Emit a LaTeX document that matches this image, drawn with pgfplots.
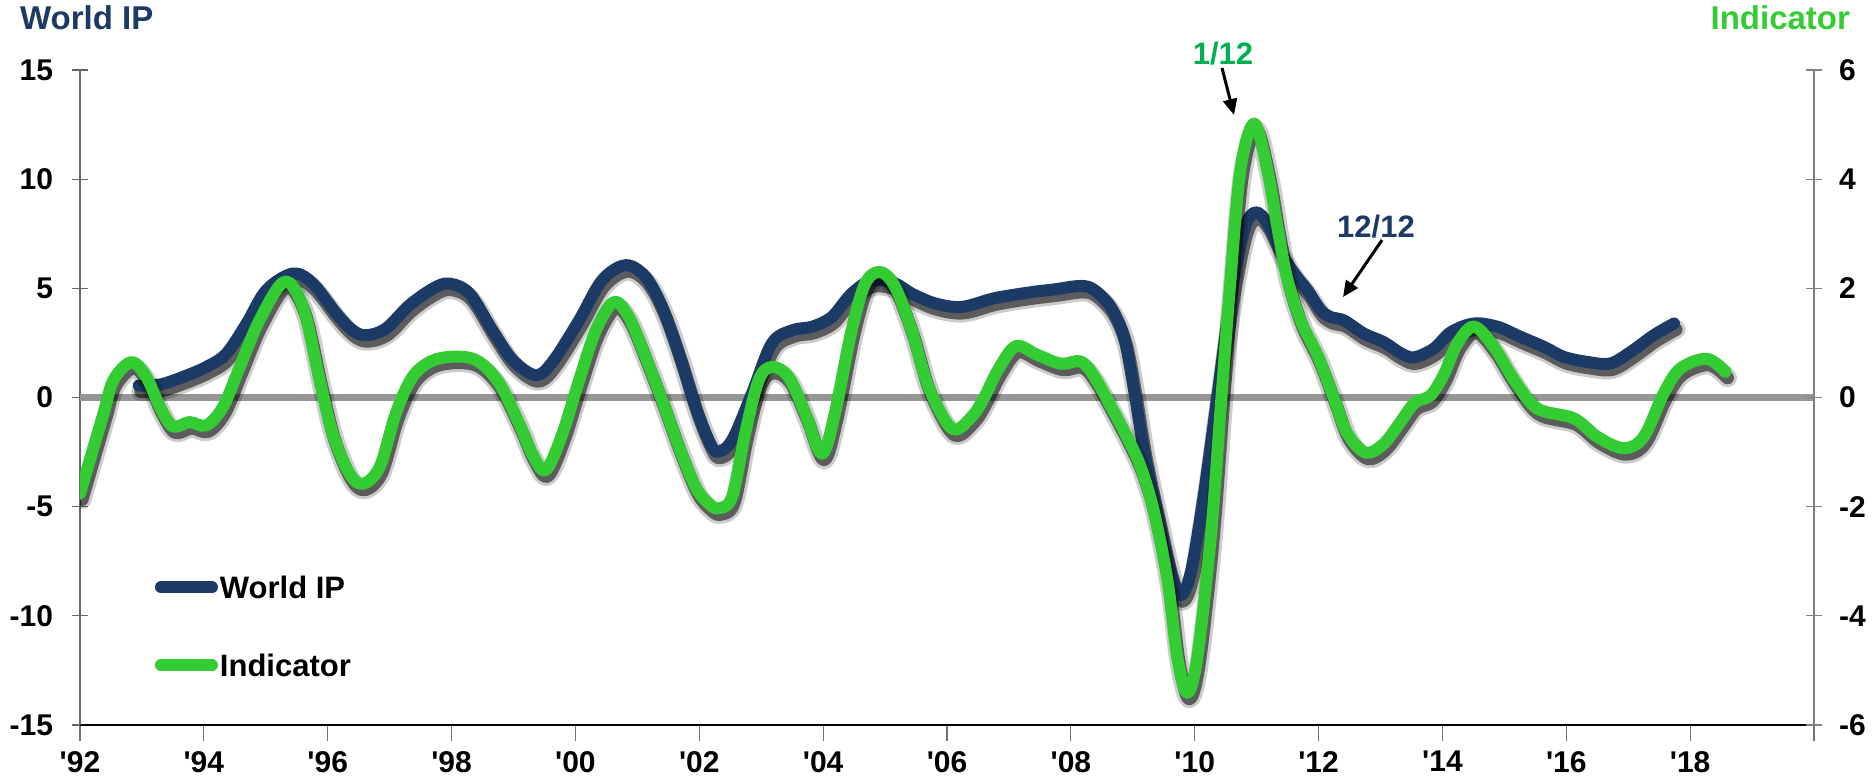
\documentclass[border=0pt]{standalone}
\usepackage{fontspec}
\setmainfont{Liberation Sans}
\usepackage{pgfplots}
\usepackage{pgfplotstable}
\pgfplotsset{compat=1.18}
\usetikzlibrary{arrows.meta}

\definecolor{ipblue}{HTML}{1B3A65}
\definecolor{indgreen}{HTML}{33CC33}
\definecolor{darkgreen}{HTML}{00B050}
\definecolor{zerogray}{HTML}{969696}

% World IP, left scale
\pgfplotstableread{
year ip
1992.95 0.55
1993.30 0.60
1993.67 0.95
1994.04 1.40
1994.36 2.00
1994.69 3.39
1995.01 4.92
1995.44 5.68
1995.76 5.22
1996.14 3.85
1996.40 3.08
1996.62 2.85
1996.94 3.16
1997.32 4.23
1997.70 4.99
1997.96 5.22
1998.29 4.76
1998.66 3.08
1998.99 1.71
1999.36 1.02
1999.63 1.63
2000.06 3.54
2000.43 5.37
2000.81 6.06
2001.13 5.53
2001.40 4.15
2001.67 2.02
2001.94 -0.43
2002.15 -1.95
2002.29 -2.49
2002.53 -1.95
2002.85 0.18
2003.17 2.47
2003.50 3.08
2003.82 3.24
2004.14 3.69
2004.46 4.76
2004.79 5.37
2005.16 5.22
2005.43 4.76
2005.81 4.31
2006.24 4.15
2006.77 4.55
2007.35 4.82
2007.73 4.95
2008.16 5.11
2008.38 4.92
2008.65 4.12
2008.86 2.74
2009.02 0.36
2009.18 -2.42
2009.40 -5.39
2009.61 -7.97
2009.77 -9.06
2009.94 -7.97
2010.15 -4.40
2010.37 0.16
2010.58 4.52
2010.80 7.69
2010.98 8.48
2011.17 7.99
2011.39 6.70
2011.60 5.71
2011.82 4.92
2012.03 4.02
2012.19 3.69
2012.41 3.53
2012.73 2.93
2013.05 2.54
2013.32 2.04
2013.54 1.84
2013.86 2.24
2014.14 3.00
2014.51 3.39
2014.89 3.24
2015.26 2.78
2015.64 2.32
2015.96 1.86
2016.34 1.63
2016.71 1.56
2017.04 2.09
2017.41 2.85
2017.74 3.39
}\ipdata

% Indicator, right scale
\pgfplotstableread{
year ind
1992.00 -1.76
1992.38 -0.29
1992.54 0.32
1992.83 0.65
1993.07 0.38
1993.29 -0.17
1993.50 -0.53
1993.77 -0.45
1994.04 -0.51
1994.31 -0.17
1994.58 0.56
1994.90 1.42
1995.30 2.12
1995.60 1.66
1995.87 0.32
1996.08 -0.66
1996.35 -1.39
1996.57 -1.58
1996.84 -1.27
1997.10 -0.29
1997.37 0.38
1997.70 0.68
1998.13 0.75
1998.45 0.65
1998.77 0.26
1999.10 -0.50
1999.30 -1.03
1999.52 -1.33
1999.79 -0.66
2000.06 0.32
2000.33 1.23
2000.62 1.75
2000.86 1.48
2001.13 0.75
2001.40 -0.05
2001.67 -0.90
2001.94 -1.64
2002.15 -1.94
2002.31 -2.03
2002.53 -1.82
2002.74 -0.66
2002.96 0.32
2003.17 0.56
2003.44 0.38
2003.71 -0.29
2003.98 -1.03
2004.19 -0.29
2004.46 1.23
2004.68 2.09
2004.92 2.30
2005.16 2.03
2005.43 1.23
2005.70 0.20
2006.08 -0.57
2006.40 -0.35
2006.60 0.00
2006.82 0.50
2007.11 0.94
2007.46 0.78
2007.84 0.62
2008.16 0.66
2008.38 0.38
2008.65 -0.17
2008.91 -0.73
2009.13 -1.28
2009.34 -2.08
2009.56 -3.35
2009.72 -4.77
2009.88 -5.41
2010.04 -4.77
2010.26 -2.55
2010.42 -0.17
2010.58 2.20
2010.74 4.19
2010.96 5.02
2011.17 4.19
2011.33 3.15
2011.49 2.20
2011.71 1.41
2011.98 0.78
2012.25 -0.02
2012.46 -0.65
2012.76 -1.01
2013.05 -0.85
2013.32 -0.45
2013.55 -0.10
2013.81 0.04
2014.03 0.44
2014.24 0.99
2014.51 1.30
2014.83 0.93
2015.16 0.32
2015.53 -0.20
2016.12 -0.38
2016.50 -0.72
2016.93 -0.93
2017.25 -0.72
2017.57 0.07
2017.84 0.53
2018.27 0.71
2018.57 0.47
}\inddata

\pgfplotsset{
  base/.style={
    at={(40pt,26.5pt)}, anchor=south west,
    scale only axis, width=867pt, height=327.5pt,
    xmin=1992, xmax=2020,
    tick label style={font=\fontsize{15}{18}\selectfont\bfseries},
    major tick length=8pt,
  },
  curve/.style={smooth, tension=0.55, no marks, line width=6pt,
    line join=round, line cap=round},
  shade1/.style={curve, black, opacity=0.2, line width=9.5pt,
    xshift=1pt, yshift=-3pt, forget plot},
  shade2/.style={curve, black, opacity=0.55, line width=6.5pt,
    xshift=1pt, yshift=-3pt, forget plot},
}

\begin{document}
\begin{tikzpicture}
\begin{axis}[base,
  ymin=-15, ymax=15,
  axis x line*=bottom, axis y line*=left,
  xtick={1992,1994,...,2020},
  xticklabels={\textquotesingle 92,\textquotesingle 94,\textquotesingle 96,\textquotesingle 98,\textquotesingle 00,\textquotesingle 02,\textquotesingle 04,\textquotesingle 06,\textquotesingle 08,\textquotesingle 10,\textquotesingle 12,\textquotesingle 14,\textquotesingle 16,\textquotesingle 18,},
  ytick={-15,-10,...,15},
  yticklabels={-15,-10,-5,0,5,10,15},
  xtick align=outside, ytick align=center,
  x axis line style={black, line width=0.8pt},
  y axis line style={black!60, line width=0.6pt},
  x tick style={black!55, line width=0.6pt},
  y tick style={black!60, line width=0.6pt},
  yticklabel style={xshift=-6pt},
  xticklabel style={yshift=-1.5pt},
]
\addplot[zerogray, line width=3.5pt, forget plot] coordinates {(1992,0) (2020,0)};
\addplot[shade1] table[x=year, y=ip] {\ipdata};
\addplot[shade2] table[x=year, y=ip] {\ipdata};
\addplot[curve, ipblue] table[x=year, y=ip] {\ipdata};
\end{axis}

\begin{axis}[base,
  ymin=-6, ymax=6,
  axis x line=none, axis y line*=right,
  ytick={-6,-4,...,6},
  yticklabels={-6,-4,-2,0,2,4,6},
  ytick align=center,
  y axis line style={black!50, line width=0.6pt},
  y tick style={black!50, line width=0.6pt},
  yticklabel style={xshift=5pt},
  legend cell align=left,
  legend style={at={(0.043,0.0733)}, anchor=south west, draw=none, fill=none,
    inner sep=0pt, row sep=27.8pt, column sep=1pt,
    font=\fontsize{15.5}{18}\selectfont\bfseries,
    nodes={inner sep=0pt, text height=11.2pt, text depth=0pt}},
  legend image code/.code={\draw[#1] (0pt,0pt) -- (25.5pt,0pt);},
]
\addlegendimage{curve, ipblue}
\addlegendentry{World IP}
\addplot[shade1] table[x=year, y=ind] {\inddata};
\addplot[shade2] table[x=year, y=ind] {\inddata};
\addplot[curve, indgreen] table[x=year, y=ind] {\inddata};
\addlegendentry{Indicator}
\end{axis}

\node[anchor=base west, text=ipblue, font=\fontsize{16.5}{20}\selectfont\bfseries] at (6.5pt,374pt) {World IP};
\node[anchor=base east, text=indgreen, font=\fontsize{16.5}{20}\selectfont\bfseries] at (928.5pt,374pt) {Indicator};
\node[anchor=base, text=darkgreen, font=\fontsize{15.5}{18}\selectfont\bfseries] at (611.5pt,356.5pt) {1/12};
\draw[-{Triangle[length=8pt,width=7pt]}, line width=1.5pt] (611pt,355pt) -- (617pt,331.5pt);
\node[anchor=base, text=ipblue, font=\fontsize{15.5}{18}\selectfont\bfseries] at (688pt,270pt) {12/12};
\draw[-{Triangle[length=8pt,width=7pt]}, line width=1.5pt] (691pt,269pt) -- (671.5pt,240.5pt);

\pgfresetboundingbox
\useasboundingbox (0,0) rectangle (936pt,389pt);
\end{tikzpicture}
\end{document}
